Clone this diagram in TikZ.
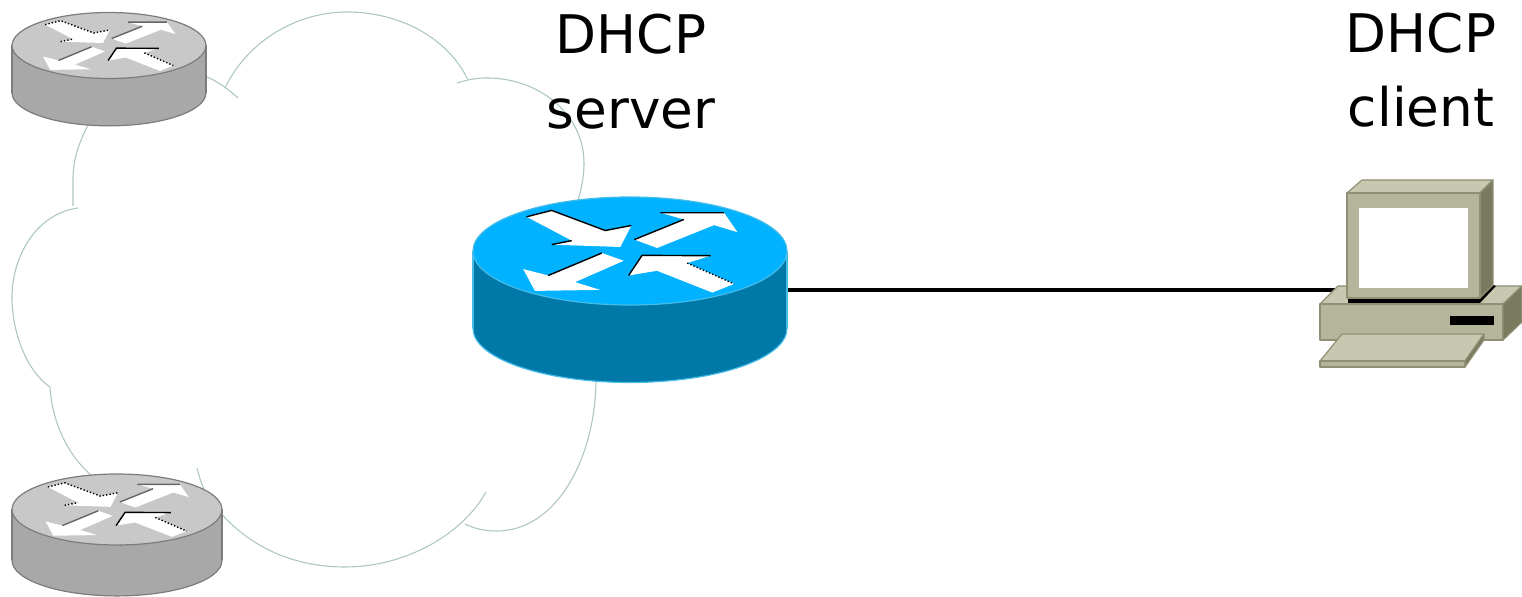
\documentclass[tikz,border=0pt]{standalone}
\usepackage{fontspec}
\setmainfont{DejaVu Sans}
\definecolor{blueTop}{HTML}{00B2FF}
\definecolor{blueSide}{HTML}{0078A8}
\definecolor{blueEdge}{HTML}{45BDE8}
\definecolor{grayTop}{HTML}{C8C8C8}
\definecolor{graySide}{HTML}{A8A8A8}
\definecolor{grayEdge}{HTML}{7C7C7C}
\definecolor{pcFront}{HTML}{B5B59B}
\definecolor{pcTop}{HTML}{C8C8B1}
\definecolor{pcSide}{HTML}{7A7A5E}
\definecolor{pcEdge}{HTML}{8F8F75}
\definecolor{cloudEdge}{HTML}{AEC6C6}
\tikzset{
  cloudline/.style={cloudEdge,line width=0.55pt},
  nametext/.style={font=\fontsize{26.6}{30}\selectfont,anchor=base,inner sep=0pt},
  pcface/.style={draw=pcEdge,line width=0.6pt,line join=round},
}
\newcommand\RTRicon[9]{
  \def\CX{#1} \def\CY{#2} \def\RX{#3} \def\RY{#4}
  \begin{scope}[shift={(\CX,\CY)},xscale=\RX/469,yscale=\RY/161]
    \draw[#7,fill=#6,line width=0.6pt] (0,231) ellipse [x radius=469, y radius=161];
    \fill[#6] (-469,0) rectangle (469,231);
    \draw[#7,line width=0.6pt] (-469,0) -- (-469,231) (469,0) -- (469,231);
    \draw[#7,fill=#5,line width=0.6pt] (0,0) ellipse [x radius=469, y radius=161];
    % the four arrows
    \foreach \pts in {
      {(-309,-102)--(-234,-121)--(-74,-61)--(4,-76)--(-29,-12)--(-234,-19)--(-174,-31)--cycle},
      {(13,-34)--(161,-94)--(91,-114)--(281,-114)--(321,-56)--(251,-77)--(81,-9)--cycle},
      {(-319,54)--(-244,73)--(-84,6)--(-19,29)--(-164,93)--(-89,116)--(-284,119)--cycle},
      {(-4,73)--(36,13)--(241,14)--(171,36)--(311,98)--(246,124)--(81,59)--cycle}}
    {
      \fill[white] \pts;
    }
    \draw[black,line width=0.7pt,#8] (-309,-102)--(-234,-121)--(-74,-61)--(4,-76);
    \draw[black,line width=0.7pt,#8] (-234,-19)--(-174,-31);
    \draw[line width=0.7pt,#9] (13,-34)--(161,-94) (91,-114)--(281,-114);
    \draw[line width=0.7pt,#9] (-244,73)--(-84,6);
    \draw[black,line width=0.7pt] (-4,73)--(36,13)--(241,14);
    \draw[black,line width=0.7pt,densely dotted] (171,36)--(311,98);
  \end{scope}
}
\begin{document}
\begin{tikzpicture}[x=0.5pt,y=-0.5pt]
\useasboundingbox (0,0) rectangle (1522,597);

% cloud
\draw[cloudline] (88,125) .. controls (78,145) and (73,160) .. (73,180) -- (73,206);
\draw[cloudline] (78,208) .. controls (35,214) and (12,258) .. (12,297) .. controls (12,335) and (28,372) .. (50,387);
\draw[cloudline] (50,387) .. controls (52,422) and (68,458) .. (97,480);
\draw[cloudline] (225,88) .. controls (248,40) and (298,12) .. (347,12) .. controls (400,12) and (448,38) .. (468,80);
\draw[cloudline] (457,83) .. controls (470,79) and (478,78) .. (487,78) .. controls (540,78) and (584,115) .. (584,163) .. controls (584,175) and (582,187) .. (578,200);
\draw[cloudline] (205,76) .. controls (217,81) and (228,89) .. (238,98);
\draw[cloudline] (197,468) .. controls (199,476) and (201,482) .. (204,490);
\draw[cloudline] (218,510) .. controls (250,548) and (295,567) .. (345,567) .. controls (405,567) and (462,535) .. (486,492);
\draw[cloudline] (465,524) .. controls (475,529) and (485,531) .. (497,531) .. controls (555,531) and (596,460) .. (596,378);

\coordinate (srvport) at (786,290);
\coordinate (pcport) at (1340,290);
\draw[line width=2pt] (srvport) -- (pcport);

\RTRicon{109}{45.5}{97}{33}{grayTop}{graySide}{grayEdge}{densely dotted}{black!60}
\RTRicon{117}{509.5}{105}{35.5}{grayTop}{graySide}{grayEdge}{densely dotted}{black!60}
\RTRicon{630}{251}{157}{54}{blueTop}{blueSide}{blueEdge}{}{black}

% client
\draw[pcface,fill=pcTop] (1320,304) -- (1338,286) -- (1522,286) -- (1503,304) -- cycle;
\draw[pcface,fill=pcFront] (1320,304) rectangle (1503,340);
\draw[pcface,fill=pcSide] (1503,304) -- (1522,286) -- (1522,322) -- (1503,340) -- cycle;
\fill[black] (1450,316) rectangle (1494,325);
\fill[black] (1348,298) -- (1480,298) -- (1493,285) -- (1496,286) -- (1480,303) -- (1348,303) -- cycle;
\draw[pcface,fill=pcTop] (1347,193) -- (1362,180) -- (1493,180) -- (1480,193) -- cycle;
\draw[pcface,fill=pcSide] (1480,193) -- (1493,180) -- (1493,285) -- (1480,298) -- cycle;
\draw[pcface,fill=pcFront] (1347,193) rectangle (1480,298);
\fill[white] (1359,208) rectangle (1468,288);
\draw[pcface,fill=pcTop] (1320,361) -- (1342,334) -- (1484,334) -- (1465,361) -- cycle;
\draw[pcface,fill=pcSide] (1465,361) -- (1484,334) -- (1484,340) -- (1465,367) -- cycle;
\draw[pcface,fill=pcFront] (1320,361) rectangle (1465,367);

\node[nametext] (srvname) at (631,54) {DHCP};
\node[nametext] (srvrole) at (631,129) {server};
\node[nametext] (cliname) at (1421,53) {DHCP};
\node[nametext] (clirole) at (1421,127) {client};
\end{tikzpicture}
\end{document}
